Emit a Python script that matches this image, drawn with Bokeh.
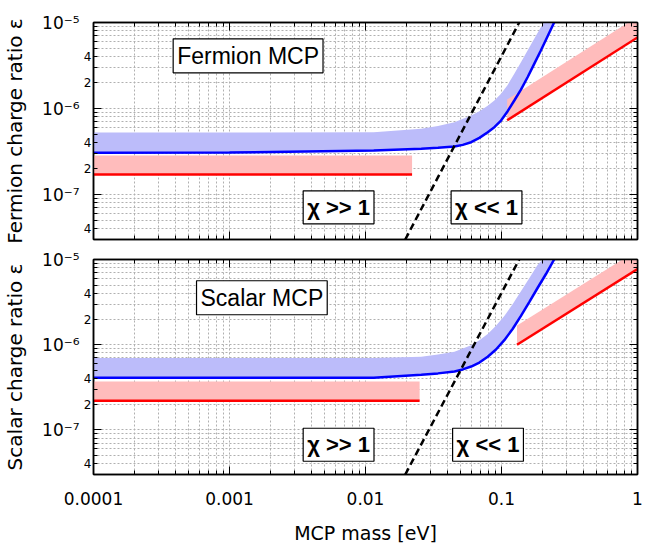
from bokeh.plotting import figure
from bokeh.layouts import column
from bokeh.models import FixedTicker, LogAxis, Label, Range1d
from bokeh.embed import file_html
from bokeh.resources import INLINE

# ---------------- data ----------------
x_major_ticks = [1e-4, 1e-3, 1e-2, 1e-1, 1.0]
x_tick_labels = ["0.0001", "0.001", "0.01", "0.1", "1"]
y_major_ticks = [1e-7, 1e-6, 1e-5]
y_major_labels = ["10\u207b\u2077", "10\u207b\u2076", "10\u207b\u2075"]
y_minor_labeled = [4e-8, 2e-7, 4e-7, 2e-6, 4e-6]
y_minor_text = ["4", "2", "4", "2", "4"]

# Fermion MCP panel
f_blue_m = [1e-4, 1e-3, 0.0115, 0.0257, 0.0341, 0.0451, 0.0519, 0.0598, 0.0688, 0.0792, 0.0886,
            0.0992, 0.1110, 0.1242, 0.1390, 0.1555, 0.1740, 0.1947, 0.2179, 0.2438]
f_blue_eps = [3.06e-7, 3.08e-7, 3.25e-7, 3.40e-7, 3.49e-7, 3.61e-7, 3.78e-7, 4.06e-7, 4.56e-7, 5.31e-7,
              6.07e-7, 7.24e-7, 9.31e-7, 1.24e-6, 1.66e-6, 2.31e-6, 3.30e-6, 4.72e-6, 6.87e-6, 1.0e-5]
f_band_m = [1e-4, 1e-3, 0.0115, 0.0257, 0.0341, 0.0451, 0.0598, 0.0688, 0.0792, 0.0886, 0.0992,
            0.1110, 0.1242, 0.1390, 0.1555, 0.1740, 0.1947, 0.2060]
f_band_hi = [5.25e-7, 5.25e-7, 5.3e-7, 5.81e-7, 6.28e-7, 6.93e-7, 8.30e-7, 9.31e-7, 1.08e-6, 1.24e-6,
             1.48e-6, 1.88e-6, 2.53e-6, 3.46e-6, 4.72e-6, 6.46e-6, 8.83e-6, 1.0e-5]
f_red_left_m = [1e-4, 0.022]
f_red_left_lo = [1.71e-7, 1.71e-7]
f_red_left_hi = [2.84e-7, 2.84e-7]
f_red_right_m = [0.11, 1.0]
f_red_right_lo = [7.3e-7, 6.7e-6]
f_red_right_hi = [1.27e-6, 1.17e-5]

# Scalar MCP panel
s_blue_m = [1e-4, 1e-3, 0.0115, 0.0257, 0.0341, 0.0451, 0.0519, 0.0598, 0.0688, 0.0792, 0.0911,
            0.1049, 0.1207, 0.1390, 0.1600, 0.1841, 0.2118, 0.2438]
s_blue_eps = [4.1e-7, 4.1e-7, 4.1e-7, 4.45e-7, 4.61e-7, 4.86e-7, 5.13e-7, 5.55e-7, 6.17e-7, 7.23e-7,
              8.79e-7, 1.13e-6, 1.53e-6, 2.18e-6, 3.17e-6, 4.63e-6, 6.71e-6, 1.0e-5]
s_band_m = [1e-4, 1e-3, 0.0115, 0.0257, 0.0341, 0.0451, 0.0598, 0.0688, 0.0792, 0.0911, 0.1049,
            0.1207, 0.1390, 0.1600, 0.1841, 0.2005]
s_band_hi = [6.98e-7, 6.98e-7, 7.0e-7, 7.23e-7, 7.69e-7, 8.26e-7, 9.86e-7, 1.13e-6, 1.34e-6, 1.67e-6,
             2.18e-6, 2.98e-6, 4.25e-6, 6.04e-6, 8.61e-6, 1.0e-5]
s_red_left_m = [1e-4, 0.025]
s_red_left_lo = [2.2e-7, 2.2e-7]
s_red_left_hi = [3.7e-7, 3.7e-7]
s_red_right_m = [0.13, 1.0]
s_red_right_lo = [1.0e-6, 7.7e-6]
s_red_right_hi = [1.68e-6, 1.29e-5]

# chi = 1 boundary (dashed)
dash_m = [0.0196, 0.135]
dash_eps = [3.0e-8, 1.0e-5]

# annotation texts / anchors
panel_names = ["Fermion MCP", "Scalar MCP"]
panel_name_pos = [(0.00137, 4.1e-6), (0.00173, 3.56e-6)]
chi_texts = ["\u03c7 >> 1", "\u03c7 << 1"]
chi_pos_top = [(0.00634, 7.1e-8), (0.0776, 7.1e-8)]
chi_pos_bot = [(0.00634, 6.7e-8), (0.0796, 6.7e-8)]
y_titles = ["Fermion charge ratio \u03b5", "Scalar charge ratio \u03b5"]
x_title = "MCP mass [eV]"

X_RANGE = (1e-4, 1.0)
Y_RANGE = (3e-8, 1e-5)

BLUE = "#0000ff"
BLUE_BAND = "#bcbcfa"
RED = "#ff0000"
RED_BAND = "#ffbcbc"
GRID = "#b0b0b0"
TICK_FONT = "DejaVu Sans"
BOX_FONT = "Liberation Sans"


def minor_list(majors):
    out = []
    for mj in majors:
        for k in range(2, 10):
            out.append(k * mj)
    return out


x_minor = minor_list([1e-4, 1e-3, 1e-2, 1e-1])
y_minor = minor_list([1e-8, 1e-7, 1e-6])


def style_axis(ax, show_labels):
    ax.axis_line_color = "black"
    ax.axis_line_width = 1.5
    ax.major_tick_in = 8
    ax.major_tick_out = 0
    ax.minor_tick_in = 4
    ax.minor_tick_out = 0
    ax.major_tick_line_color = "black"
    ax.minor_tick_line_color = "black"
    if not show_labels:
        ax.major_label_text_font_size = "1px"
        ax.major_label_text_color = None
        ax.major_label_standoff = 0


def label_axis(ticks, labels, size, standoff):
    ax = LogAxis(ticker=FixedTicker(ticks=ticks, minor_ticks=[]))
    ax.major_label_overrides = {t: l for t, l in zip(ticks, labels)}
    ax.axis_line_color = None
    ax.major_tick_line_color = None
    ax.minor_tick_line_color = None
    ax.major_tick_in = 0
    ax.major_tick_out = 0
    ax.minor_tick_in = 0
    ax.minor_tick_out = 0
    ax.major_label_text_font = TICK_FONT
    ax.major_label_text_font_size = size
    ax.major_label_text_color = "black"
    ax.major_label_standoff = standoff
    return ax


def make_panel(height, top_b, bot_b, show_x, blue_m, blue_eps, band_m, band_hi,
               rl_m, rl_lo, rl_hi, rr_m, rr_lo, rr_hi, name, name_pos, chi_pos, ytitle):
    p = figure(width=647, height=height, x_axis_type="log", y_axis_type="log",
               x_range=Range1d(*X_RANGE), y_range=Range1d(*Y_RANGE),
               output_backend="svg", toolbar_location=None,
               min_border_left=91, min_border_right=10,
               min_border_top=top_b, min_border_bottom=bot_b)
    p.background_fill_color = "white"
    p.outline_line_color = "black"
    p.outline_line_width = 1.5

    xt = FixedTicker(ticks=x_major_ticks, minor_ticks=x_minor)
    yt = FixedTicker(ticks=y_major_ticks, minor_ticks=y_minor)
    p.xaxis.ticker = xt
    p.yaxis.ticker = yt
    for g in (p.xgrid, p.ygrid):
        g.grid_line_color = GRID
        g.grid_line_dash = "2 2"
        g.grid_line_width = 1
        g.minor_grid_line_color = GRID
        g.minor_grid_line_dash = "2 2"
        g.minor_grid_line_width = 1
    p.xgrid.ticker = xt
    p.ygrid.ticker = yt

    style_axis(p.xaxis[0], show_x)
    style_axis(p.yaxis[0], False)
    if show_x:
        p.xaxis.major_label_overrides = {t: l for t, l in zip(x_major_ticks, x_tick_labels)}
        p.xaxis.major_label_text_font = TICK_FONT
        p.xaxis.major_label_text_font_size = "17px"
        p.xaxis.major_label_text_color = "black"
        p.xaxis.major_label_standoff = 17
        p.xaxis.axis_label = x_title
        p.xaxis.axis_label_text_font = TICK_FONT
        p.xaxis.axis_label_text_font_size = "19px"
        p.xaxis.axis_label_text_font_style = "normal"
        p.xaxis.axis_label_text_color = "black"
        p.xaxis.axis_label_standoff = 14

    # y tick labels: small minor labels next to the frame, decade labels further out
    minor_ax = label_axis(y_minor_labeled, y_minor_text, "12px", 2)
    p.add_layout(minor_ax, "left")
    major_ax = label_axis(y_major_ticks, y_major_labels, "17px", 1)
    major_ax.axis_label = ytitle
    major_ax.axis_label_text_font = TICK_FONT
    major_ax.axis_label_text_font_size = "20px"
    major_ax.axis_label_text_font_style = "normal"
    major_ax.axis_label_text_color = "black"
    major_ax.axis_label_standoff = 12
    p.add_layout(major_ax, "left")

    top_ax = LogAxis(ticker=xt)
    style_axis(top_ax, False)
    p.add_layout(top_ax, "above")
    right_ax = LogAxis(ticker=yt)
    style_axis(right_ax, False)
    p.add_layout(right_ax, "right")

    # bands
    xs = list(blue_m) + list(reversed(band_m))
    ys = list(blue_eps) + list(reversed(band_hi))
    p.patch(xs, ys, fill_color=BLUE_BAND, line_color=None)
    p.varea(x=rl_m, y1=rl_lo, y2=rl_hi, fill_color=RED_BAND)
    p.varea(x=rr_m, y1=rr_lo, y2=rr_hi, fill_color=RED_BAND)
    # lines
    p.line(blue_m, blue_eps, line_color=BLUE, line_width=2.5)
    p.line(rl_m, rl_lo, line_color=RED, line_width=2.5)
    p.line(rr_m, rr_lo, line_color=RED, line_width=2.5)
    p.line(dash_m, dash_eps, line_color="black", line_width=2.5, line_dash="7 4")

    # boxes
    p.add_layout(Label(x=name_pos[0], y=name_pos[1], text=name,
                       text_align="center", text_baseline="middle",
                       text_font=BOX_FONT, text_font_size="23px", text_color="black",
                       border_line_color="black", border_line_width=1.2,
                       background_fill_color="white", padding=4))
    for (cx, cy), txt in zip(chi_pos, chi_texts):
        p.add_layout(Label(x=cx, y=cy, text=txt,
                           text_align="center", text_baseline="middle",
                           text_font=BOX_FONT, text_font_size="22px", text_font_style="bold",
                           text_color="black",
                           border_line_color="black", border_line_width=1.2,
                           background_fill_color="white", padding=4))
    return p


p1 = make_panel(249, 22, 10, False, f_blue_m, f_blue_eps, f_band_m, f_band_hi,
                f_red_left_m, f_red_left_lo, f_red_left_hi,
                f_red_right_m, f_red_right_lo, f_red_right_hi,
                panel_names[0], panel_name_pos[0], chi_pos_top, y_titles[0])
p2 = make_panel(297, 10, 68, True, s_blue_m, s_blue_eps, s_band_m, s_band_hi,
                s_red_left_m, s_red_left_lo, s_red_left_hi,
                s_red_right_m, s_red_right_lo, s_red_right_hi,
                panel_names[1], panel_name_pos[1], chi_pos_bot, y_titles[1])

layout = column(p1, p2, spacing=0)
open("out.html", "w").write(file_html(layout, INLINE))
